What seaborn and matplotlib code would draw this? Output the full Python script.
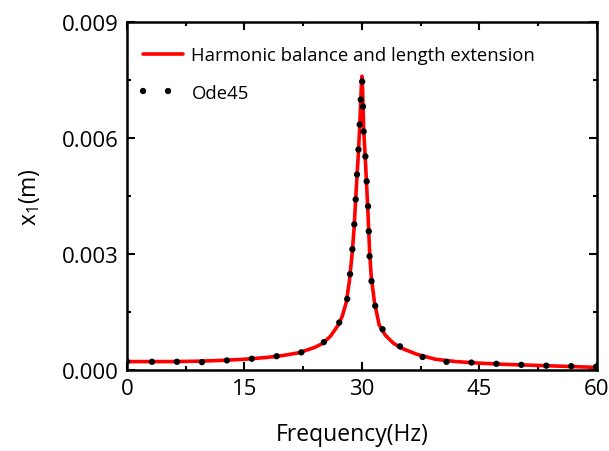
import matplotlib
matplotlib.use("Agg")
import matplotlib.pyplot as plt
import seaborn as sns
import pandas as pd
from matplotlib.ticker import MultipleLocator, FormatStrFormatter

# Harmonic balance and length extension (red solid)
hb_freq = [0, 3, 6, 9, 12, 15, 18, 20, 22, 24, 25, 26, 27, 27.5, 28, 28.4, 28.75,
           29.0, 29.2, 29.4, 29.55, 29.7, 29.82, 29.92, 30.0, 30.08, 30.23, 30.4,
           30.55, 30.7, 30.85, 31.0, 31.2, 31.6, 32.2, 33, 34, 35, 37, 39.4, 42,
           45, 48, 51, 54, 57, 60]
hb_amp = [0.00022, 0.00022, 0.00022, 0.00023, 0.00025, 0.00028, 0.00033, 0.00038,
          0.00045, 0.00059, 0.00069, 0.00088, 0.00117, 0.00140, 0.00175, 0.00230,
          0.00300, 0.00366, 0.00440, 0.00510, 0.00560, 0.00620, 0.00680, 0.00730,
          0.00760, 0.00730, 0.00620, 0.00560, 0.00500, 0.00440, 0.00370, 0.00300,
          0.00240, 0.00176, 0.00117, 0.00090, 0.00070, 0.00057, 0.00041, 0.00028,
          0.00022, 0.00018, 0.00015, 0.00013, 0.00011, 0.00009, 0.00007]

# Ode45 (black dotted)
ode_freq = [0, 3.1, 6.3, 9.2, 12, 15.1, 18.2, 22.3, 25, 27, 28.1, 28.45, 28.75, 29.0,
            29.17, 29.34, 29.52, 29.68, 29.81, 29.94, 30.0, 30.06, 30.23, 30.45,
            30.61, 30.79, 30.96, 31.17, 31.6, 32.2, 34.0, 36.9, 39.4, 42, 45, 48.1,
            51, 54.2, 57.3, 60]
ode_amp = [0.00022, 0.000215, 0.000215, 0.00020, 0.00024, 0.00028, 0.00033, 0.00046,
           0.00069, 0.00117, 0.00179, 0.00240, 0.00304, 0.00366, 0.00428, 0.00492,
           0.00554, 0.00618, 0.00679, 0.00740, 0.00755, 0.00740, 0.00613, 0.00551,
           0.00487, 0.00425, 0.00300, 0.00238, 0.00176, 0.00117, 0.00070, 0.00041,
           0.00020, 0.000225, 0.00018, 0.000155, 0.00013, 0.00011, 0.00010, 0.00009]

x_ticks = [0, 15, 30, 45, 60]
y_ticks = [0.000, 0.003, 0.006, 0.009]

sns.set_style("ticks")
plt.rcParams['font.family'] = ['Open Sans', 'DejaVu Sans']
plt.rcParams['mathtext.default'] = 'regular'
for k in ['text.color', 'axes.labelcolor', 'xtick.color', 'ytick.color', 'axes.edgecolor']:
    plt.rcParams[k] = 'black'

hb = pd.DataFrame({"f": hb_freq, "a": hb_amp})
ode = pd.DataFrame({"f": ode_freq, "a": ode_amp})

fig = plt.figure(figsize=(6.09, 4.52), dpi=100)
ax = fig.add_axes([0.2085, 0.179, 0.7715, 0.770])

DOT = (0, (0.01, 3.9))

sns.lineplot(data=hb, x="f", y="a", ax=ax, color="#ff0000", lw=2.6,
             label="Harmonic balance and length extension", sort=False)
sns.lineplot(data=ode, x="f", y="a", ax=ax, color="black", lw=4.6,
             label="Ode45", sort=False)
ode_line = ax.get_lines()[-1]
ode_line.set_linestyle(DOT)
ode_line.set_dash_capstyle("round")

ax.set_xlim(0, 60)
ax.set_ylim(0, 0.009)
ax.set_xticks(x_ticks)
ax.set_yticks(y_ticks)
ax.xaxis.set_minor_locator(MultipleLocator(7.5))
ax.yaxis.set_minor_locator(MultipleLocator(0.0015))
ax.yaxis.set_major_formatter(FormatStrFormatter('%.3f'))
ax.tick_params(which='both', direction='in', top=True, right=True, width=1.5,
               labelsize=16, pad=6, colors='black')
ax.tick_params(which='major', length=6)
ax.tick_params(which='minor', length=3)
for s in ax.spines.values():
    s.set_linewidth(1.8)
    s.set_color("black")

ax.set_xlabel("Frequency(Hz)", fontsize=16.5, labelpad=14)
ax.xaxis.set_label_coords(0.48, -0.15)
ax.set_ylabel("x$_1$(m)", fontsize=16.5, labelpad=14)

leg = ax.legend(loc="upper left", bbox_to_anchor=(0.018, 0.952), frameon=False,
                fontsize=13.3, handlelength=2.2, borderaxespad=0.0,
                labelspacing=1.05, handletextpad=0.43)
leg.get_lines()[1].set_linestyle(DOT)
leg.get_lines()[1].set_dash_capstyle("round")

fig.savefig("out.png", dpi=100)
